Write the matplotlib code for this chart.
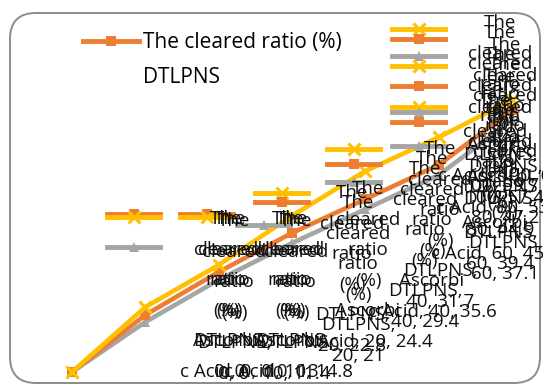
import matplotlib
matplotlib.use("Agg")
import matplotlib.pyplot as plt
import matplotlib.patches as mpatches
import matplotlib.transforms as mtransforms
from matplotlib.lines import Line2D

W, H = 543, 385

# concentration steps and cleared ratio (%) of each sample
conc = [0, 10, 20, 40, 60, 80, 100]
ascorbic = [0, 14.8, 24.4, 35.6, 45.8, 53.5, 62.0]
dtlpns = [0, 13.0, 22.8, 31.7, 39.4, 47.2, 59.7]
dtlpns_b = [0, 11.4, 21.0, 29.4, 37.1, 44.9, 57.4]

ORANGE = "#ED7D31"
GOLD = "#FFC000"
GRAY = "#A5A5A5"

styles = {
    "g": dict(color=GOLD, marker="x", ms=9, mew=2.2),
    "o": dict(color=ORANGE, marker="s", ms=7, mew=0),
    "s": dict(color=GRAY, marker="^", ms=7, mew=0),
}

plt.rcParams["font.family"] = ["Open Sans", "DejaVu Sans"]

fig = plt.figure(figsize=(W / 100, H / 100), dpi=100)
ax = fig.add_axes([72 / W, 13 / H, 440 / W, 329 / H])
ax.set_xlim(0, 6)
ax.set_ylim(0, 75)
ax.axis("off")

# rounded chart frame (pixel coords)
frame = mpatches.FancyBboxPatch((10, 2), 530, 370,
                                boxstyle="round,pad=0,rounding_size=26",
                                transform=mtransforms.IdentityTransform(),
                                facecolor="none", edgecolor="#8C8C8C", lw=1.4)
fig.patches.append(frame)

idx = range(len(conc))
ax.plot(idx, dtlpns_b, lw=3.3, clip_on=False, zorder=2, **styles["s"])
ax.plot(idx, dtlpns, lw=3.3, clip_on=False, zorder=3, **styles["o"])
ax.plot(idx, ascorbic, lw=3.3, clip_on=False, zorder=4, **styles["g"])


def key(k):
    return Line2D([], [], lw=3.5, **styles[k])


# main legend entry
blank = Line2D([], [], alpha=0)
leg = fig.legend([key("o"), blank], ["The cleared ratio (%)", "DTLPNS"],
                 loc="upper left", bbox_to_anchor=(83 / W, 1 - 32 / H),
                 frameon=False, fontsize=15, handlelength=2.7,
                 handletextpad=0.2, borderpad=0, borderaxespad=0,
                 labelspacing=0.65)

# stray legend keys spread over the plot
spots = [(417, 30, "g"), (417, 40, "o"), (417, 57, "s"), (417, 67, "g"),
         (417, 87, "o"), (417, 108, "g"), (417, 113, "s"), (417, 123, "o"),
         (417, 147, "s"), (352, 150, "g"), (352, 165, "o"), (352, 183, "s"),
         (280, 194, "g"), (280, 203, "o"), (262, 226, "s"),
         (132, 215, "o"), (132, 218, "g"), (132, 248, "s"),
         (205, 215, "o"), (205, 218, "g")]
for x, y, k in spots:
    fig.legend([key(k)], [""], loc="center",
               bbox_to_anchor=(x / W + 0.003, 1 - y / H), frameon=False,
               fontsize=10, handlelength=3.8, handletextpad=0, borderpad=0,
               borderaxespad=0)

# data labels (series name, category, value)
label_pos = {
    "Ascorbic Acid": [(226, 210), (288, 210), (368, 180), (432, 150), (495, 92), (500, 46), (500, 14)],
    "DTLPNS": [(230, 210), (292, 210), (352, 184), (440, 140), (500, 102), (505, 56), (500, 24)],
    "DTLPNS ": [(234, 212), (296, 212), (358, 194), (425, 160), (505, 112), (500, 68), (505, 36)],
}
series = {"Ascorbic Acid": ascorbic, "DTLPNS": dtlpns, "DTLPNS ": dtlpns_b}
for name, vals in series.items():
    for (px, py), c, v in zip(label_pos[name], conc, vals):
        if name.startswith("Ascorbic"):
            txt = f"The\ncleared\nratio\n(%)\nAscorbi\nc Acid, {c}, {v:g}"
        else:
            txt = f"The\ncleared\nratio\n(%)\n{name.strip()},\n{c}, {v:g}"
        fig.text(px / W, 1 - py / H, txt, ha="center", va="top",
                 fontsize=13.5, linespacing=1.9, color="#111111", zorder=6)

fig.savefig("out.png", dpi=100)
